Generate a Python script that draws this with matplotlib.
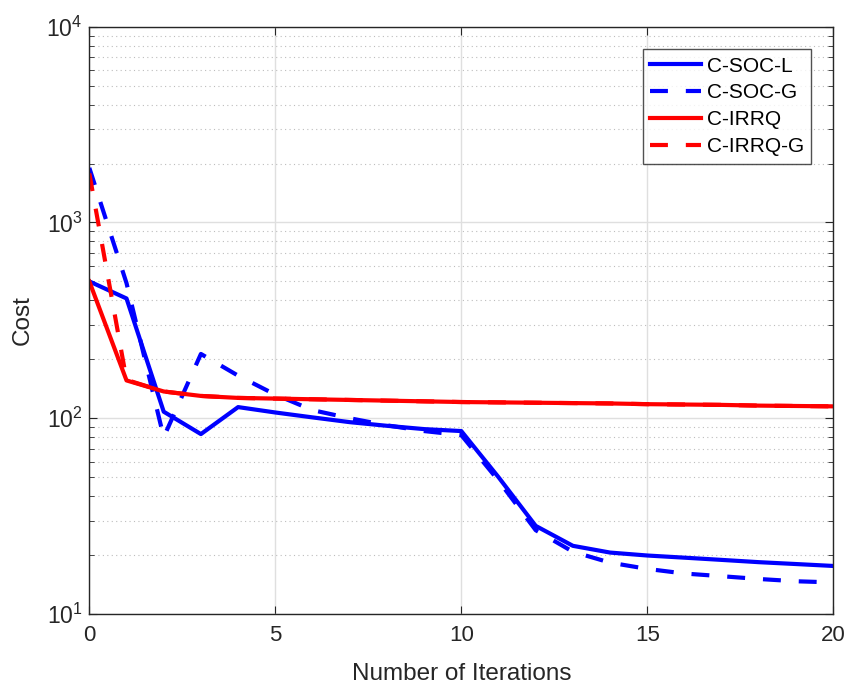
import numpy as np
import matplotlib
matplotlib.use("Agg")
import matplotlib.pyplot as plt
from matplotlib.ticker import LogLocator, NullFormatter

plt.rcParams['font.family'] = ['Liberation Sans', 'DejaVu Sans']

# iterations
iters = np.arange(0, 21)

# cost values
soc_l = [500, 409, 108, 83, 114, 107, 101, 95.5, 91.5, 88, 86,
         50, 28.2, 22.3, 20.6, 19.9, 19.4, 18.9, 18.4, 18.0, 17.6]
soc_g = [1900, 490, 80, 213, 165, 132, 110, 100, 92, 86, 82,
         48, 26.8, 20.8, 18.3, 17.0, 16.1, 15.6, 15.1, 14.7, 14.5]
irrq = [500, 156, 137, 130, 127, 126, 125, 124, 123, 122, 121,
        120.5, 120, 119.5, 119, 118, 117.5, 117, 116, 115.5, 115]
irrq_g = [1780, 157, 137, 130, 127, 126, 125, 124, 123, 122, 121,
          120.5, 120, 119.5, 119, 118, 117.5, 117, 116, 115.5, 115]

fig = plt.figure(figsize=(8.49, 6.91), dpi=100)
ax = fig.add_axes([0.1052, 0.1114, 0.8763, 0.8500])

lw = 3.0
dash = (4.3, 4.3)
ax.plot(iters, soc_l, color=(0, 0, 1), lw=lw, label='C-SOC-L')
ax.plot(iters, soc_g, color=(0, 0, 1), lw=lw, dashes=dash, label='C-SOC-G')
ax.plot(iters, irrq, color=(1, 0, 0), lw=lw, label='C-IRRQ')
ax.plot(iters, irrq_g, color=(1, 0, 0), lw=lw, dashes=dash, label='C-IRRQ-G')

ax.set_yscale('log')
ax.set_xlim(0, 20)
ax.set_ylim(10, 1e4)
ax.set_xticks([0, 5, 10, 15, 20])
ax.yaxis.set_major_locator(LogLocator(base=10, numticks=10))
ax.yaxis.set_minor_locator(LogLocator(base=10, subs=np.arange(2, 10), numticks=20))
ax.yaxis.set_minor_formatter(NullFormatter())

ax.grid(True, which='major', color='#dfdfdf', lw=1.0, ls='-')
ax.grid(True, which='minor', axis='y', color='#bdbdbd', lw=0.8, ls=(0, (1, 3)))
ax.set_axisbelow(True)

for s in ax.spines.values():
    s.set_color('#262626')
    s.set_linewidth(1.0)
ax.tick_params(which='both', direction='in', top=True, right=True, colors='#262626')
ax.tick_params(which='major', length=6)
ax.tick_params(which='minor', length=3.5)
ax.tick_params(axis='x', labelsize=16, pad=8)
ax.tick_params(axis='y', labelsize=16.5, pad=5)

ax.set_xlabel('Number of Iterations', fontsize=17.5, color='#262626', labelpad=12)
ax.set_ylabel('Cost', fontsize=17.5, color='#262626', labelpad=9)

leg = ax.legend(loc='upper right', bbox_to_anchor=(0.970, 0.9615),
                fontsize=15, frameon=True, fancybox=False,
                handlelength=2.45, handletextpad=0.25, labelspacing=0.38,
                borderpad=0.35, borderaxespad=0)
leg.get_frame().set_edgecolor('#262626')
leg.get_frame().set_linewidth(1.0)

fig.savefig('out.png', dpi=100, facecolor='white')
